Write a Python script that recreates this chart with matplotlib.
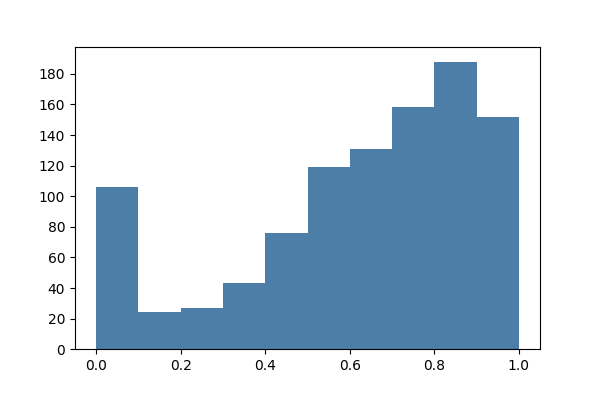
import matplotlib
matplotlib.use("Agg")
import matplotlib.pyplot as plt
import numpy as np

# histogram counts, 10 equal bins on [0, 1]
bin_edges = [0.0, 0.1, 0.2, 0.3, 0.4, 0.5, 0.6, 0.7, 0.8, 0.9, 1.0]
counts = [106, 24, 27, 43, 76, 119, 131, 158, 188, 152]


def main():
    fig, ax = plt.subplots(figsize=(6, 4), dpi=100)
    fig.subplots_adjust(left=0.125, right=0.9, bottom=0.127, top=0.882)
    ax.hist(bin_edges[:-1], bins=bin_edges, weights=counts,
            color='#4c7ea8')
    ax.set_yticks(np.arange(0, 181, 20))
    fig.savefig('out.png', dpi=100)


if __name__ == "__main__":
    main()
